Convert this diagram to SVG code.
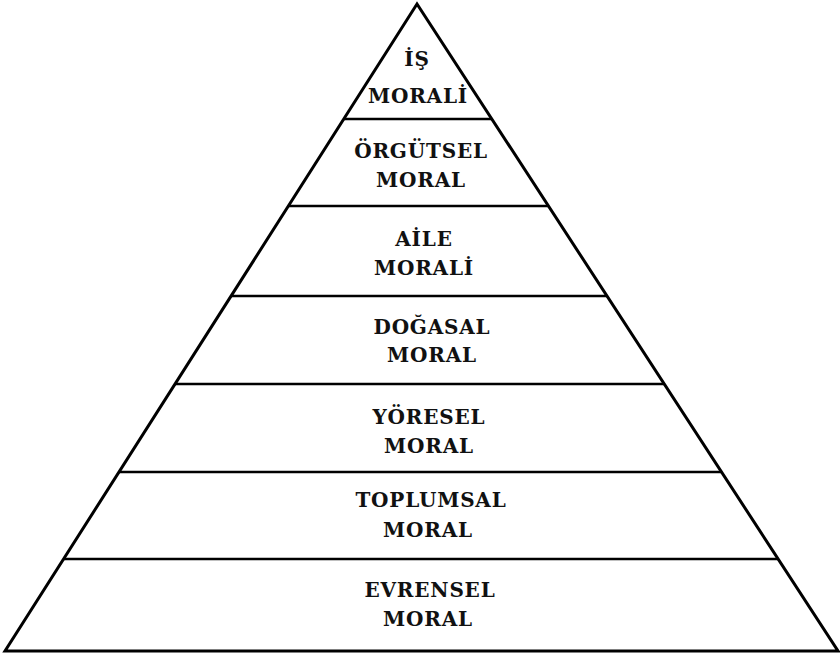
<svg xmlns="http://www.w3.org/2000/svg" width="840" height="654" viewBox="0 0 840 654">
  <style>
    .outline { fill: #ffffff; stroke: #000000; stroke-width: 3; stroke-linejoin: miter; }
    .divider { stroke: #000000; stroke-width: 2.6; }
    .label { font-family: "DejaVu Serif", "Liberation Serif", serif; font-weight: bold; font-size: 20px; letter-spacing: 0.8px; fill: #111111; text-anchor: middle; }
  </style>
  <rect width="840" height="654" fill="#ffffff"/>

  <!-- pyramid outline -->
  <polygon class="outline" points="417,4 5,651 838,651"/>

  <!-- tier dividers -->
  <g id="dividers">
    <line class="divider" x1="343.8" y1="119" x2="491.8" y2="119"/>
    <line class="divider" x1="288.4" y1="206" x2="548.4" y2="206"/>
    <line class="divider" x1="231.1" y1="296" x2="607" y2="296"/>
    <line class="divider" x1="175" y1="384" x2="664.3" y2="384"/>
    <line class="divider" x1="119" y1="472" x2="721.5" y2="472"/>
    <line class="divider" x1="63.6" y1="559" x2="778.1" y2="559"/>
  </g>

  <g id="tier-is-morali">
    <text class="label" x="417" y="66">İŞ</text>
    <text class="label" x="418" y="103">MORALİ</text>
  </g>
  <g id="tier-orgutsel-moral">
    <text class="label" x="421" y="158">ÖRGÜTSEL</text>
    <text class="label" x="421" y="187">MORAL</text>
  </g>
  <g id="tier-aile-morali">
    <text class="label" x="424" y="246">AİLE</text>
    <text class="label" x="424" y="275">MORALİ</text>
  </g>
  <g id="tier-dogasal-moral">
    <text class="label" x="432" y="334">DOĞASAL</text>
    <text class="label" x="432" y="362">MORAL</text>
  </g>
  <g id="tier-yoresel-moral">
    <text class="label" x="429" y="424">YÖRESEL</text>
    <text class="label" x="429" y="453">MORAL</text>
  </g>
  <g id="tier-toplumsal-moral">
    <text class="label" x="431" y="507">TOPLUMSAL</text>
    <text class="label" x="428" y="537">MORAL</text>
  </g>
  <g id="tier-evrensel-moral">
    <text class="label" x="430" y="597">EVRENSEL</text>
    <text class="label" x="428" y="626">MORAL</text>
  </g>
</svg>
